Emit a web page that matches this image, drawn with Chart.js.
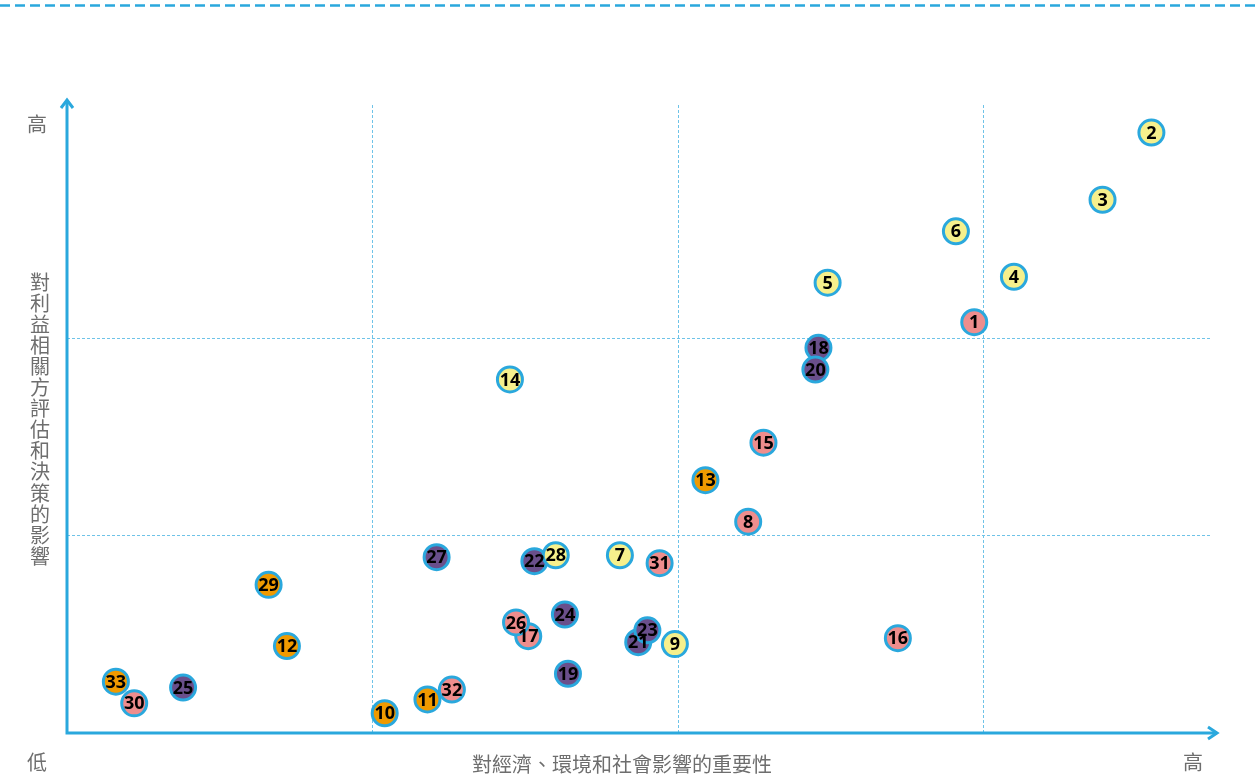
<!DOCTYPE html>
<html>
<head>
<meta charset="utf-8">
<script src="https://cdn.jsdelivr.net/npm/chart.js@4/dist/chart.umd.min.js"></script>
<style>
  html, body { margin: 0; padding: 0; background: #fff; }
  #matrix { display: block; }
</style>
</head>
<body>
<canvas id="matrix" width="1258" height="776"></canvas>
<script>
// issue numbers, x = importance of economic/env/social impact, y = stakeholder influence
const issueIds = [1,2,3,4,5,6,7,8,9,10,11,12,13,14,15,16,17,18,19,20,21,22,23,24,25,26,27,28,29,30,31,32,33];
const impactX = [2.97,3.55,3.39,3.10,2.49,2.91,1.81,2.23,1.99,1.04,1.18,0.72,2.09,1.45,2.28,2.72,1.51,2.46,1.64,2.45,1.87,1.53,1.90,1.63,0.38,1.47,1.21,1.60,0.66,0.22,1.94,1.26,0.16];
const stakeY  = [2.08,3.04,2.70,2.31,2.28,2.54,0.90,1.07,0.45,0.10,0.17,0.44,1.28,1.79,1.47,0.48,0.49,1.95,0.30,1.84,0.46,0.87,0.52,0.60,0.23,0.56,0.89,0.90,0.75,0.15,0.86,0.22,0.26];
// group per issue: Y = yellow, P = pink, V = purple, O = orange
const issueGroup = ['P','Y','Y','Y','Y','Y','Y','P','Y','O','O','O','O','Y','P','P','P','V','V','V','V','V','V','V','V','P','V','Y','O','P','P','P','O'];
const gridX = [1, 2, 3];
const gridY = [1, 2];
const xTitle = '對經濟、環境和社會影響的重要性';
const yTitle = '對利益相關方評估和決策的影響';
const lowLabel = '低';
const highLabel = '高';

const groupColors = { Y: '#f6f08c', P: '#ee8d8d', V: '#6a4f8b', O: '#f09a00' };
const blue = '#2aa8dd';
const textGray = '#6e6e6e';

const points = issueIds.map((id, i) => ({ x: impactX[i], y: stakeY[i] }));

const matrixDecor = {
  id: 'matrixDecor',
  beforeDatasetsDraw(chart) {
    const { ctx, chartArea: a, scales: { x, y } } = chart;
    ctx.save();
    // top dashed rule
    ctx.strokeStyle = blue;
    ctx.lineWidth = 2.5;
    ctx.setLineDash([10, 5]);
    ctx.beginPath();
    ctx.moveTo(0, 5.5);
    ctx.lineTo(1258, 5.5);
    ctx.stroke();

    // dotted grid
    ctx.strokeStyle = '#6ec3e8';
    ctx.lineWidth = 1;
    ctx.setLineDash([3, 2]);
    gridX.forEach(v => {
      const px = Math.round(x.getPixelForValue(v)) + 0.5;
      ctx.beginPath();
      ctx.moveTo(px, a.top + 6);
      ctx.lineTo(px, a.bottom);
      ctx.stroke();
    });
    gridY.forEach(v => {
      const py = Math.round(y.getPixelForValue(v)) + 0.5;
      ctx.beginPath();
      ctx.moveTo(a.left, py);
      ctx.lineTo(a.right - 6, py);
      ctx.stroke();
    });

    // axes with arrows
    ctx.setLineDash([]);
    ctx.strokeStyle = blue;
    ctx.lineWidth = 3;
    ctx.lineCap = 'butt';
    ctx.beginPath();
    ctx.moveTo(a.left, a.bottom);
    ctx.lineTo(a.left, a.top + 1);
    ctx.moveTo(a.left - 1.5, a.bottom);
    ctx.lineTo(a.right - 1, a.bottom);
    ctx.stroke();
    ctx.lineJoin = 'miter';
    ctx.beginPath();
    ctx.moveTo(a.left - 6, a.top + 9);
    ctx.lineTo(a.left, a.top + 1);
    ctx.lineTo(a.left + 6, a.top + 9);
    ctx.moveTo(a.right - 10, a.bottom - 6);
    ctx.lineTo(a.right - 1, a.bottom);
    ctx.lineTo(a.right - 10, a.bottom + 6);
    ctx.stroke();
    ctx.restore();
  },
  afterDatasetsDraw(chart) {
    const { ctx } = chart;
    const meta = chart.getDatasetMeta(0);
    ctx.save();
    ctx.font = 'bold 18px "Noto Sans", sans-serif';
    ctx.fillStyle = '#000';
    ctx.textAlign = 'center';
    ctx.textBaseline = 'middle';
    meta.data.forEach((el, i) => {
      ctx.fillText(String(issueIds[i]), el.x, el.y + 1);
    });

    // axis captions
    ctx.fillStyle = textGray;
    ctx.font = '20px "Noto Sans CJK TC", sans-serif';
    ctx.fillText(highLabel, 37, 124);
    ctx.fillText(lowLabel, 37, 762);
    ctx.fillText(highLabel, 1193, 762);
    ctx.fillText(xTitle, 622, 764);
    Array.from(yTitle).forEach((ch, i) => {
      ctx.fillText(ch, 40, 282 + i * 21.1);
    });
    ctx.restore();
  }
};

new Chart(document.getElementById('matrix').getContext('2d'), {
  type: 'scatter',
  data: {
    datasets: [{
      label: 'issues',
      data: points,
      pointRadius: 12.5,
      pointHoverRadius: 12.5,
      pointBorderWidth: 3,
      pointBackgroundColor: issueGroup.map(g => groupColors[g]),
      pointBorderColor: blue
    }]
  },
  options: {
    responsive: false,
    animation: false,
    devicePixelRatio: 1,
    layout: { padding: { left: 67, right: 40, top: 99, bottom: 43 } },
    scales: {
      x: { display: false, type: 'linear', min: 0, max: 3.768 },
      y: { display: false, type: 'linear', min: 0, max: 3.21 }
    },
    plugins: {
      legend: { display: false },
      tooltip: { enabled: false }
    }
  },
  plugins: [matrixDecor]
});
</script>
</body>
</html>
